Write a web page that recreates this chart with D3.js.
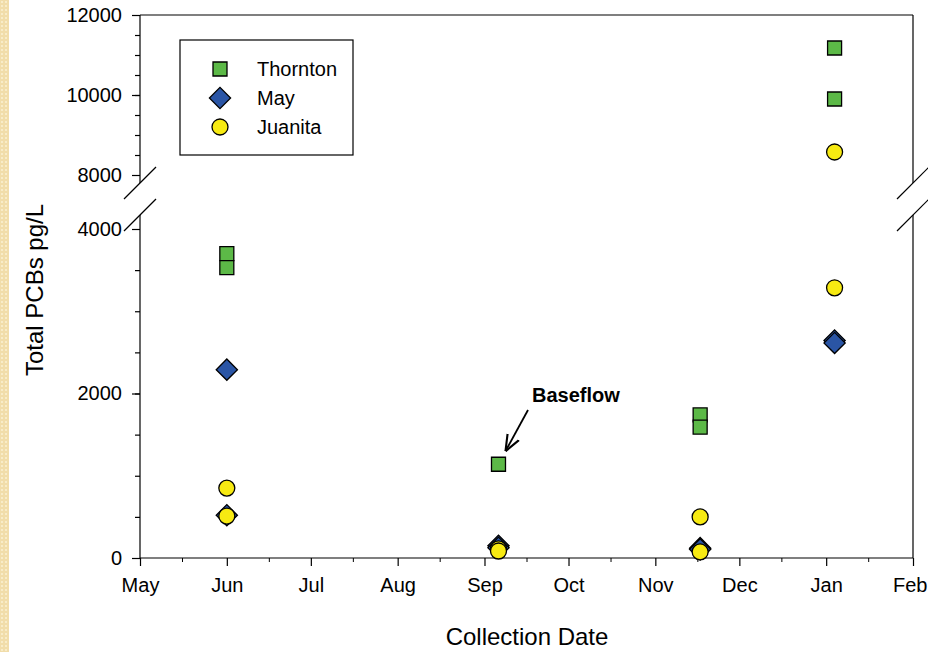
<!DOCTYPE html>
<html>
<head>
<meta charset="UTF-8">
<title>Total PCBs by collection date</title>
<script src="https://cdn.jsdelivr.net/npm/d3@7"></script>
<style>
  body { margin: 0; background: #fff; }
  text { font-family: "Liberation Sans", Arial, sans-serif; fill: #000; }
</style>
</head>
<body>
<script>
// data
var seriesNames = ["Thornton", "May", "Juanita"];
var thorntonDates = ["2009-06-01", "2009-06-01", "2009-09-06", "2009-11-17", "2009-11-17", "2010-01-04", "2010-01-04"];
var thorntonValues = [3700, 3530, 1140, 1740, 1590, 11175, 9900];
var mayDates = ["2009-06-01", "2009-06-01", "2009-09-06", "2009-09-06", "2009-11-17", "2009-11-17", "2010-01-04", "2010-01-04"];
var mayValues = [2290, 520, 150, 125, 120, 105, 2645, 2615];
var juanitaDates = ["2009-06-01", "2009-06-01", "2009-09-06", "2009-09-06", "2009-11-17", "2009-11-17", "2010-01-04", "2010-01-04"];
var juanitaValues = [850, 510, 110, 85, 500, 75, 8575, 3285];
var lowTicks = [0, 2000, 4000];
var highTicks = [8000, 10000, 12000];

var W = 928, H = 652;
var plotL = 140, plotR = 913, plotT = 15, plotB = 558;
var breakLow = 215, breakHigh = 183;

var svg = d3.select("body").append("svg")
    .attr("width", W)
    .attr("height", H);

// beige strip at the left edge
var defs = svg.append("defs");
var pat = defs.append("pattern")
    .attr("id", "paper")
    .attr("width", 4).attr("height", 4)
    .attr("patternUnits", "userSpaceOnUse");
pat.append("rect").attr("width", 4).attr("height", 4).attr("fill", "#f1ddaa");
pat.append("rect").attr("x", 1).attr("y", 1).attr("width", 2).attr("height", 2).attr("fill", "#f8ecc8");
svg.append("rect").attr("x", 0).attr("y", 0).attr("width", 9).attr("height", H).attr("fill", "url(#paper)");

var parse = d3.timeParse("%Y-%m-%d");
var x = d3.scaleTime()
    .domain([new Date(2009, 4, 1), new Date(2010, 1, 1)])
    .range([plotL, plotR]);
var yLo = d3.scaleLinear().domain([0, 4000]).range([plotB, 229]);
var yHi = d3.scaleLinear().domain([8000, 12000]).range([175, plotT]);
function y(v) { return v >= 6000 ? yHi(v) : yLo(v); }

// frame: top line, bottom line, broken side axes
var frame = svg.append("g").attr("stroke", "#000").attr("stroke-width", 1.2).attr("fill", "none");
frame.append("line").attr("x1", plotL).attr("x2", plotR).attr("y1", plotT).attr("y2", plotT);
frame.append("line").attr("x1", plotL).attr("x2", plotR).attr("y1", plotB).attr("y2", plotB);
[plotL, plotR].forEach(function(xx) {
  frame.append("line").attr("x1", xx).attr("x2", xx).attr("y1", plotT).attr("y2", breakHigh);
  frame.append("line").attr("x1", xx).attr("x2", xx).attr("y1", breakLow).attr("y2", plotB);
  // break marks
  [breakHigh, breakLow].forEach(function(yy) {
    frame.append("line")
      .attr("x1", xx - 16).attr("y1", yy + 16)
      .attr("x2", xx + 16).attr("y2", yy - 16);
  });
});

// y axes
function yAxis(scale, ticks, minor) {
  var g = svg.append("g").attr("transform", "translate(" + plotL + ",0)");
  g.call(d3.axisLeft(scale).tickValues(minor).tickSize(5).tickFormat(""));
  g.select(".domain").remove();
  var g2 = svg.append("g").attr("transform", "translate(" + plotL + ",0)");
  g2.call(d3.axisLeft(scale).tickValues(ticks).tickSize(8).tickPadding(10).tickFormat(d3.format("d")));
  g2.select(".domain").remove();
  g2.selectAll("text").style("font-size", "20px");
  svg.selectAll(".tick line").attr("stroke-width", 1.2);
}
yAxis(yLo, lowTicks, d3.range(500, 4000, 500));
yAxis(yHi, highTicks, d3.range(8500, 12000, 500));

// x axis
var xg = svg.append("g").attr("transform", "translate(0," + plotB + ")");
xg.call(d3.axisBottom(x)
    .tickValues(d3.timeMonth.range(new Date(2009, 4, 1), new Date(2010, 1, 2)))
    .tickSize(8).tickPadding(12)
    .tickFormat(d3.timeFormat("%b")));
xg.select(".domain").remove();
xg.selectAll("text").style("font-size", "20px");
xg.selectAll(".tick line").attr("stroke-width", 1.2);
// last label sits against the page edge
xg.selectAll(".tick text").filter(function(d, i, n) { return i === n.length - 1; })
    .attr("text-anchor", "end").attr("x", W - plotR - 1);
var xm = svg.append("g").attr("transform", "translate(0," + plotB + ")");
xm.call(d3.axisBottom(x)
    .tickValues(d3.timeMonth.range(new Date(2009, 4, 1), new Date(2010, 1, 1)).map(function(d) { return d3.timeDay.offset(d, 15); }))
    .tickSize(4).tickFormat(""));
xm.select(".domain").remove();

// axis titles
svg.append("text")
    .attr("transform", "translate(43,290) rotate(-90)")
    .attr("text-anchor", "middle")
    .style("font-size", "24px")
    .text("Total PCBs pg/L");
svg.append("text")
    .attr("x", 527).attr("y", 645)
    .attr("text-anchor", "middle")
    .style("font-size", "24px")
    .text("Collection Date");

// markers
var styles = {
  Thornton: { type: d3.symbolSquare, size: 196, fill: "#5cb947", rot: 0 },
  May: { type: d3.symbolSquare, size: 225, fill: "#2a55a5", rot: 45 },
  Juanita: { type: d3.symbolCircle, size: Math.PI * 64, fill: "#f7ea12", rot: 0 }
};
var seriesData = {
  Thornton: thorntonDates.map(function(d, i) { return { date: parse(d), value: thorntonValues[i] }; }),
  May: mayDates.map(function(d, i) { return { date: parse(d), value: mayValues[i] }; }),
  Juanita: juanitaDates.map(function(d, i) { return { date: parse(d), value: juanitaValues[i] }; })
};

seriesNames.forEach(function(name) {
  var st = styles[name];
  svg.append("g").selectAll("path")
    .data(seriesData[name])
    .enter().append("path")
    .attr("d", d3.symbol().type(st.type).size(st.size))
    .attr("transform", function(d) {
      return "translate(" + x(d.date) + "," + y(d.value) + ") rotate(" + st.rot + ")";
    })
    .attr("fill", st.fill)
    .attr("stroke", "#000")
    .attr("stroke-width", 1.3);
});

// legend
var lg = svg.append("g");
lg.append("rect")
    .attr("x", 180).attr("y", 40).attr("width", 173).attr("height", 115)
    .attr("fill", "#fff").attr("stroke", "#000").attr("stroke-width", 1.2);
seriesNames.forEach(function(name, i) {
  var st = styles[name];
  var cy = 69 + i * 29;
  lg.append("path")
    .attr("d", d3.symbol().type(st.type).size(st.size))
    .attr("transform", "translate(220," + cy + ") rotate(" + st.rot + ")")
    .attr("fill", st.fill).attr("stroke", "#000").attr("stroke-width", 1.3);
  lg.append("text")
    .attr("x", 257).attr("y", cy + 7)
    .style("font-size", "20px")
    .text(name);
});

// Baseflow annotation
var bf = seriesData.Thornton[2];
svg.append("text")
    .attr("x", 532).attr("y", 402)
    .style("font-size", "20px")
    .style("font-weight", "bold")
    .text("Baseflow");
defs.append("marker")
    .attr("id", "arrow")
    .attr("viewBox", "0 0 10 10")
    .attr("refX", 10).attr("refY", 5)
    .attr("markerWidth", 9).attr("markerHeight", 9)
    .attr("orient", "auto")
    .append("path")
    .attr("d", "M0,1 L10,5 L0,9")
    .attr("fill", "none").attr("stroke", "#000").attr("stroke-width", 1.3);
svg.append("line")
    .attr("x1", 528).attr("y1", 410)
    .attr("x2", x(bf.date) + 7).attr("y2", y(bf.value) - 13)
    .attr("stroke", "#000").attr("stroke-width", 1.8)
    .attr("marker-end", "url(#arrow)");
</script>
</body>
</html>
